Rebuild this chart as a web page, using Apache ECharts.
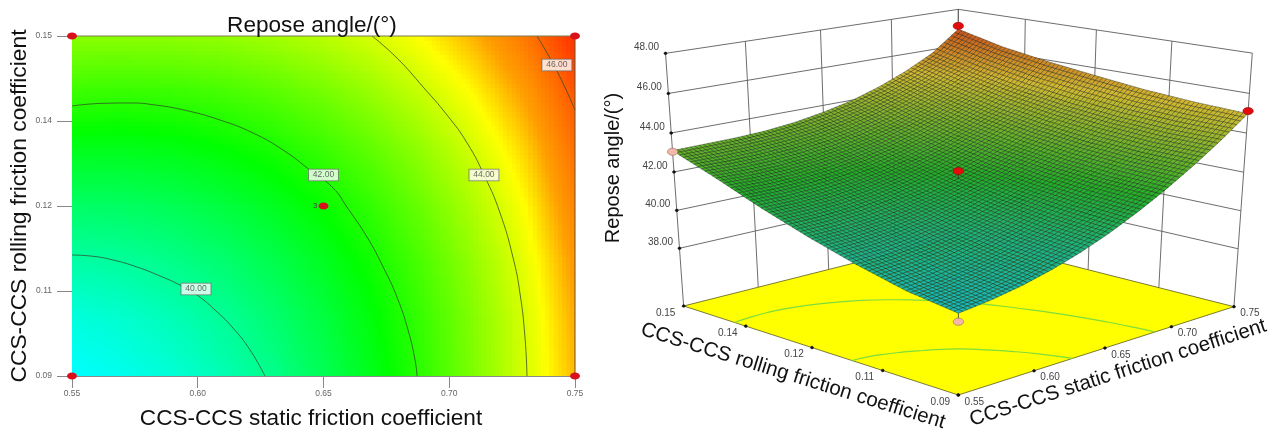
<!DOCTYPE html>
<html><head><meta charset="utf-8">
<style>html,body{margin:0;padding:0;background:#fff}#c{width:1281px;height:434px}</style>
<script src="https://cdn.jsdelivr.net/npm/echarts@6/dist/echarts.min.js"></script>
</head><body><div id="c"></div>
<script>
// ---- data ----
const staticFriction = [0.55,0.57,0.59,0.61,0.63,0.65,0.67,0.69,0.71,0.73,0.75];
const rollingFriction = [0.09,0.10,0.11,0.12,0.13,0.14,0.15];
const reposeRow009 = [38.80,38.98,39.25,39.62,40.09,40.67,41.35,42.12,42.98,43.93,44.98];
const reposeRow010 = [39.16,39.32,39.58,39.92,40.36,40.89,41.52,42.23,43.04,43.96,45.10];
const reposeRow011 = [39.76,39.87,40.07,40.36,40.75,41.22,41.79,42.45,43.22,44.12,45.30];
const reposeRow012 = [40.48,40.53,40.67,40.91,41.24,41.66,42.17,42.78,43.52,44.38,45.60];
const reposeRow013 = [41.30,41.30,41.39,41.57,41.84,42.21,42.66,43.23,43.92,44.75,45.92];
const reposeRow014 = [42.23,42.17,42.21,42.34,42.55,42.86,43.27,43.80,44.44,45.24,46.32];
const reposeRow015 = [43.10,43.12,43.14,43.21,43.37,43.63,43.97,44.45,45.05,45.80,46.90];
const reposeRows = [reposeRow009,reposeRow010,reposeRow011,reposeRow012,reposeRow013,reposeRow014,reposeRow015];

const contour40 = [[0.55,0.11135],[0.5572,0.11118],[0.5663,0.11047],[0.5758,0.10924],[0.585,0.10765],[0.5929,0.10606],[0.5997,0.1043],[0.6077,0.1013],[0.614,0.09847],[0.6208,0.09459],[0.6267,0.09]];
const contour42 = [[0.55,0.13765],[0.5623,0.13812],[0.5731,0.13818],[0.5822,0.13788],[0.5957,0.13682],[0.6088,0.13518],[0.622,0.13288],[0.6339,0.12988],[0.6446,0.12635],[0.6538,0.12318],[0.6593,0.11982],[0.6673,0.11453],[0.6737,0.10924],[0.6792,0.10394],[0.6836,0.09812],[0.6864,0.09282],[0.6872,0.09]];
const contour44 = [[0.6693,0.15],[0.6792,0.14612],[0.6896,0.141],[0.6991,0.13606],[0.7071,0.13112],[0.7142,0.12512],[0.7202,0.11876],[0.7253,0.111],[0.7281,0.10465],[0.7301,0.09688],[0.7309,0.09]];
const contour46 = [[0.7349,0.15],[0.74,0.14612],[0.7452,0.1417],[0.75,0.13694]];
const contourLabels = [[0.5993,0.10535,'40.00'],[0.65,0.12547,'42.00'],[0.7138,0.12547,'44.00'],[0.7428,0.14488,'46.00']];

const designX = [0.55,0.55,0.75,0.75,0.65];
const designY = [0.09,0.15,0.09,0.15,0.12];
const designZ = [38.40,43.04,45.11,47.08,42.05];
const designAbove = [false,false,true,true,true];
const designMark = ['','','','','3'];

const xTicks = [0.55,0.60,0.65,0.70,0.75];
const xTickLabels = ['0.55','0.60','0.65','0.70','0.75'];
const yTicks = [0.09,0.105,0.12,0.135,0.15];
const yTickLabels = ['0.09','0.11','0.12','0.14','0.15'];
const zTicks = [38,40,42,44,46,48];
const zTickLabels = ['38.00','40.00','42.00','44.00','46.00','48.00'];

// ---- colour scales ----
const colorStops = [[38.8,[0,255,255]],[41.6,[0,255,0]],[44.4,[255,255,0]],[45.2,[255,160,0]],[47.2,[255,30,0]]];
const surfaceStops = [[38.8,[30,235,245]],[41.8,[40,225,50]],[45.0,[245,235,60]],[47.8,[235,40,20]]];
function mix(stops,z){
  let a=stops[0],b=stops[1];
  for(let i=0;i<stops.length-1;i++){ if(z>=stops[i][0]){a=stops[i];b=stops[i+1];} }
  const t=Math.max(0,Math.min(1,(z-a[0])/(b[0]-a[0])));
  return [0,1,2].map(k=>Math.round(a[1][k]+(b[1][k]-a[1][k])*t));
}
function colorOf(z){ return 'rgb('+mix(colorStops,z).join(',')+')'; }
function surfaceColor(z){ const m=mix(surfaceStops,z); return 'rgb('+Math.round(m[0]*0.85)+','+Math.round(m[1]*0.78)+','+Math.round(m[2]*0.78)+')'; }
// table lookup used when painting
function zAt(u,v){
  const nx=staticFriction.length-1, ny=rollingFriction.length-1;
  const fx=Math.min(u*nx,nx-1e-9), fy=Math.min(v*ny,ny-1e-9);
  const i=Math.floor(fx), j=Math.floor(fy), s=fx-i, t=fy-j;
  const r=reposeRows;
  return (1-t)*((1-s)*r[j][i]+s*r[j][i+1])+t*((1-s)*r[j+1][i]+s*r[j+1][i+1]);
}

// ---- 3D view ----
const xMin=0.55,xSpan=0.20,yMin=0.09,ySpan=0.06,zFloor=34.9,zSpan=13.1;
const cam={ox:838,oy:1185,ax:826.2,ay:-139.9,bx:-595.2,by:-138.5,cx:-43,cy:-872.3,alpha:0.136,beta:0.14,gamma:-0.0515,flare:0.018,
            kx:2.275,ky:3,sx:590};
function proj(x,y,z){
  const u=(x-xMin)/xSpan,v=(y-yMin)/ySpan,w=(z-zFloor)/zSpan;
  const d=1+cam.alpha*u+cam.beta*v+cam.gamma*w;
  let px=(cam.ox+cam.ax*u+cam.bx*v+cam.cx*w)/d;
  const py=(cam.oy+cam.ay*u+cam.by*v+cam.cy*w)/d;
  px=cam.ox+(px-cam.ox)*(1+cam.flare*w);
  return [cam.sx+px/cam.kx,py/cam.ky];
}
const xEnd=xMin+xSpan,yEnd=yMin+ySpan,zTop=48;
function line(a,b,stroke,lw){return {type:'line',shape:{x1:a[0],y1:a[1],x2:b[0],y2:b[1]},style:{stroke:stroke,lineWidth:lw}};}
function txt(p,s,font,fill){return {type:'text',x:p[0],y:p[1],style:{text:s,font:font,fill:fill,align:'center',verticalAlign:'middle'}};}
function dot(p,rx,ry,fill,stroke){return {type:'ellipse',shape:{cx:p[0],cy:p[1],rx:rx,ry:ry},style:{fill:fill,stroke:stroke,lineWidth:0.6}};}

function renderBack(){
  const c=[], g='#5c5c5c';
  const wall=(a,b)=>c.push(line(a,b,g,0.9));
  zTicks.forEach(z=>{
    wall(proj(xMin,yEnd,z),proj(xEnd,yEnd,z));
    wall(proj(xEnd,yEnd,z),proj(xEnd,yMin,z));
  });
  xTicks.forEach(x=>wall(proj(x,yEnd,zFloor),proj(x,yEnd,zTop)));
  yTicks.forEach(y=>wall(proj(xEnd,y,zFloor),proj(xEnd,y,zTop)));
  const floor=[proj(xMin,yMin,zFloor),proj(xEnd,yMin,zFloor),proj(xEnd,yEnd,zFloor),proj(xMin,yEnd,zFloor)];
  c.push({type:'polygon',shape:{points:floor},style:{fill:'#ffff00',stroke:'#5a5a20',lineWidth:0.8}});
  [contour40,contour42].forEach(ct=>{
    c.push({type:'polyline',shape:{points:ct.map(q=>proj(q[0],q[1],zFloor)),smooth:0.5},style:{stroke:'#7fdc3c',lineWidth:1.2,fill:null}});
  });
  const tf='10px "Liberation Sans", Arial, sans-serif', tc='#444';
  xTicks.forEach((x,i)=>{const p=proj(x,yMin,zFloor);c.push(dot(p,1.5,1.3,'#111','#111'));c.push(txt([p[0]+16,p[1]+7],xTickLabels[i],tf,tc));});
  yTicks.forEach((y,i)=>{const p=proj(xMin,y,zFloor);c.push(dot(p,1.5,1.3,'#111','#111'));c.push(txt([p[0]-18,p[1]+7],yTickLabels[i],tf,tc));});
  zTicks.forEach((z,i)=>{const p=proj(xMin,yEnd,z);c.push(dot(p,1.5,1.3,'#111','#111'));c.push(txt([p[0]-19,p[1]-6],zTickLabels[i],tf,tc));});
  return {type:'group',children:c};
}
function renderSurface(){
  const c=[], n=72;
  const pt=(a,b)=>{const u=a/n,v=b/n;return proj(xMin+u*xSpan,yMin+v*ySpan,zAt(u,v));};
  for(let b=n-1;b>=0;b--){
    for(let a=n-1;a>=0;a--){
      const z=zAt((a+0.5)/n,(b+0.5)/n);
      c.push({type:'polygon',shape:{points:[pt(a,b),pt(a+1,b),pt(a+1,b+1),pt(a,b+1)]},
        style:{fill:surfaceColor(z),stroke:'rgba(10,20,10,0.6)',lineWidth:0.6}});
    }
  }
  return {type:'group',children:c};
}
function renderPoints(){
  const c=[];
  designX.forEach((x,i)=>{
    const y=designY[i],z=designZ[i],p=proj(x,y,z);
    const nx=(x-xMin)/xSpan,ny=(y-yMin)/ySpan;
    c.push(line(p,proj(x,y,zAt(nx,ny)),'#333',0.8));
    c.push(dot(p,5.2,3.6,designAbove[i]?'#e30b0b':'#f4b8a8',designAbove[i]?'#8a1010':'#9a6a60'));
  });
  return {type:'group',children:c};
}
// ---- 2D map ----
function renderHeat(params,api){
  const i=api.value(0),j=api.value(1);
  const c=[], nx=staticFriction.length-1, ny=rollingFriction.length-1, sub=12;
  for(let a=0;a<sub;a++){
    for(let b=0;b<sub;b++){
      const x0=staticFriction[i]+(staticFriction[i+1]-staticFriction[i])*a/sub;
      const x1=staticFriction[i]+(staticFriction[i+1]-staticFriction[i])*(a+1)/sub;
      const y0=rollingFriction[j]+(rollingFriction[j+1]-rollingFriction[j])*b/sub;
      const y1=rollingFriction[j]+(rollingFriction[j+1]-rollingFriction[j])*(b+1)/sub;
      const p0=api.coord([x0,y1]),p1=api.coord([x1,y0]);
      const u=(i+(a+0.5)/sub)/nx,v=(j+(b+0.5)/sub)/ny;
      const L=Math.floor(p0[0]),T=Math.floor(p0[1]);
      c.push({type:'rect',shape:{x:L,y:T,width:Math.ceil(p1[0])-L,height:Math.ceil(p1[1])-T},style:{fill:colorOf(zAt(u,v))}});
    }
  }
  return {type:'group',children:c};
}
const heatCells=[];
for(let i=0;i<staticFriction.length-1;i++)for(let j=0;j<rollingFriction.length-1;j++)heatCells.push([i,j]);

const contourStyle={type:'line',xAxisIndex:0,yAxisIndex:0,showSymbol:false,smooth:0.5,silent:true,animation:false,z:3,
  lineStyle:{color:'#2f4a2a',width:0.9,opacity:0.85}};
const FONT='"Liberation Sans", Arial, sans-serif';
const ellipsePath='path://M0,5 A5,5 0 1 1 10,5 A5,5 0 1 1 0,5 Z';

const chart=echarts.init(document.getElementById('c'),null,{renderer:'canvas'});
chart.setOption({
  animation:false,
  backgroundColor:'#ffffff',
  title:{text:'Repose angle/(°)',left:307,top:21,textAlign:'center',textVerticalAlign:'middle',
    textStyle:{fontFamily:FONT,fontSize:22.6,fontWeight:'normal',color:'#111'}},
  grid:{left:72,top:36,width:503,height:340,show:false,outerBoundsMode:'none',containLabel:false},
  xAxis:{type:'value',min:0.55,max:0.75,interval:0.05,splitLine:{show:false},
    name:'CCS-CCS static friction coefficient',nameLocation:'middle',nameGap:31,
    nameTextStyle:{fontFamily:FONT,fontSize:22.6,color:'#111',padding:[0,25,0,0]},
    axisLine:{lineStyle:{color:'#8a8a8a',width:1}},
    axisTick:{length:12,lineStyle:{color:'#888'}},
    axisLabel:{fontFamily:FONT,fontSize:8.5,color:'#666',margin:13,formatter:v=>xTickLabels[xTicks.findIndex(t=>Math.abs(t-v)<1e-6)]}},
  yAxis:{type:'value',min:0.09,max:0.15,interval:0.015,splitLine:{show:false},
    name:'CCS-CCS rolling friction coefficient',nameLocation:'middle',nameGap:39,
    nameTextStyle:{fontFamily:FONT,fontSize:22.8,color:'#111'},
    axisLine:{show:true,lineStyle:{color:'#4a4a4a',width:1}},
    axisTick:{show:true,length:15,lineStyle:{color:'#888'}},
    axisLabel:{fontFamily:FONT,fontSize:8.5,color:'#666',margin:20,formatter:v=>yTickLabels[yTicks.findIndex(t=>Math.abs(t-v)<1e-6)]}},
  graphic:[
    {type:'text',x:613,y:168,rotation:Math.PI/2,style:{text:'Repose angle/(°)',font:'20px '+FONT,fill:'#111',align:'center',verticalAlign:'middle'},z:50},
    {type:'text',x:793,y:376,rotation:-17.2*Math.PI/180,style:{text:'CCS-CCS rolling friction coefficient',font:'20.5px '+FONT,fill:'#111',align:'center',verticalAlign:'middle'},z:50},
    {type:'text',x:1118,y:373,rotation:17.9*Math.PI/180,style:{text:'CCS-CCS static friction coefficient',font:'20.5px '+FONT,fill:'#111',align:'center',verticalAlign:'middle'},z:50}
  ],
  series:[
    {type:'custom',coordinateSystem:'cartesian2d',renderItem:renderHeat,data:heatCells,silent:true,animation:false,z:1,encode:{x:0,y:1},clip:true,xAxisIndex:0,yAxisIndex:0,dimensions:['i','j']},
    Object.assign({data:contour40},contourStyle),
    Object.assign({data:contour42},contourStyle),
    Object.assign({data:contour44},contourStyle),
    Object.assign({data:contour46},contourStyle),
    {type:'line',silent:true,animation:false,showSymbol:false,z:4,lineStyle:{color:'#7a7a50',width:1},clip:false,data:[[0.55,0.15],[0.75,0.15]]},
    {type:'line',silent:true,animation:false,showSymbol:false,z:4,lineStyle:{color:'#6e4a2a',width:1},clip:false,data:[[0.75,0.15],[0.75,0.09]]},
    {type:'scatter',silent:true,animation:false,z:5,symbolSize:1,itemStyle:{color:'rgba(0,0,0,0)'},
      data:contourLabels.map(r=>({value:[r[0],r[1]],name:r[2]})),
      label:{show:true,position:'inside',formatter:'{b}',fontFamily:FONT,fontSize:8.5,color:'#444',backgroundColor:'#fff',borderColor:'#666',borderWidth:0.8,padding:[1,4]}},
    {type:'scatter',silent:true,animation:false,z:6,symbol:ellipsePath,symbolSize:[10,7],clip:false,itemStyle:{color:'#d8101c',opacity:1},
      data:designX.map((x,i)=>({value:[x,designY[i]],name:designMark[i]})),
      label:{show:true,position:'left',distance:1,formatter:'{b}',fontFamily:FONT,fontSize:8,color:'#444'}},
    {type:'custom',coordinateSystem:'none',renderItem:renderBack,data:[0],silent:true,animation:false,z:10},
    {type:'custom',coordinateSystem:'none',renderItem:renderSurface,data:[0],silent:true,animation:false,z:11},
    {type:'custom',coordinateSystem:'none',renderItem:renderPoints,data:[0],silent:true,animation:false,z:12}
  ]
});
</script></body></html>
